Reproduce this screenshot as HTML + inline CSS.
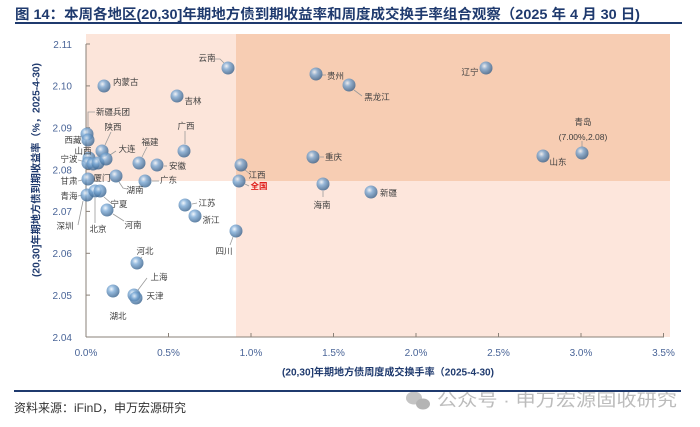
<!DOCTYPE html>
<html><head><meta charset="utf-8"><style>
html,body{margin:0;padding:0;background:#fff;}
svg{display:block;}
text{font-family:"Liberation Sans","Noto Sans CJK SC",sans-serif;}
.lb{font-size:8.5px;fill:#404040;}
.ld{stroke:#9a9a9a;stroke-width:0.8;fill:none;}
.yt{font-size:10px;fill:#4a6598;text-anchor:end;}
.xt{font-size:10px;fill:#4a6598;text-anchor:middle;}
</style></head><body>
<svg width="700" height="427" viewBox="0 0 700 427" xmlns="http://www.w3.org/2000/svg">
<defs>
<radialGradient id="g" cx="0.38" cy="0.35" r="0.7">
<stop offset="0" stop-color="#eef5fc"/>
<stop offset="0.35" stop-color="#7aa9d6"/>
<stop offset="1" stop-color="#2c5783"/>
</radialGradient>
</defs>
<rect width="700" height="427" fill="#fff"/>
<!-- title -->
<text x="15" y="19" font-size="14" font-weight="bold" fill="#1f3a6e" textLength="625" lengthAdjust="spacingAndGlyphs">图 14：本周各地区(20,30]年期地方债到期收益率和周度成交换手率组合观察（2025 年 4 月 30 日)</text>
<rect x="15" y="22" width="667" height="2" fill="#1f3a6e"/>
<!-- shading -->
<rect x="86" y="34" width="150" height="147" fill="#fce5da"/>
<rect x="236" y="34" width="434" height="147" fill="#f7cdb3"/>
<rect x="236" y="181" width="434" height="156" fill="#fde6dc"/>
<!-- axes -->
<g stroke="#8a8178" stroke-width="1">
<line x1="86" y1="44" x2="86" y2="337"/>
<line x1="86" y1="337" x2="664" y2="337"/>
<line x1="86" y1="44" x2="90" y2="44"/>
<line x1="86" y1="85.9" x2="90" y2="85.9"/>
<line x1="86" y1="127.7" x2="90" y2="127.7"/>
<line x1="86" y1="169.6" x2="90" y2="169.6"/>
<line x1="86" y1="211.4" x2="90" y2="211.4"/>
<line x1="86" y1="253.3" x2="90" y2="253.3"/>
<line x1="86" y1="295.1" x2="90" y2="295.1"/>
<line x1="168.5" y1="337" x2="168.5" y2="333"/>
<line x1="251" y1="337" x2="251" y2="333"/>
<line x1="333.5" y1="337" x2="333.5" y2="333"/>
<line x1="416" y1="337" x2="416" y2="333"/>
<line x1="498.5" y1="337" x2="498.5" y2="333"/>
<line x1="581" y1="337" x2="581" y2="333"/>
<line x1="663.5" y1="337" x2="663.5" y2="333"/>
</g>
<!-- y tick labels -->
<text class="yt" x="72" y="48">2.11</text>
<text class="yt" x="72" y="89.5">2.10</text>
<text class="yt" x="72" y="131.5">2.09</text>
<text class="yt" x="72" y="173.5">2.08</text>
<text class="yt" x="72" y="215">2.07</text>
<text class="yt" x="72" y="257">2.06</text>
<text class="yt" x="72" y="299">2.05</text>
<text class="yt" x="72" y="341">2.04</text>
<!-- x tick labels -->
<text class="xt" x="86" y="356">0.0%</text>
<text class="xt" x="168.5" y="356">0.5%</text>
<text class="xt" x="251" y="356">1.0%</text>
<text class="xt" x="333.5" y="356">1.5%</text>
<text class="xt" x="416" y="356">2.0%</text>
<text class="xt" x="498.5" y="356">2.5%</text>
<text class="xt" x="581" y="356">3.0%</text>
<text class="xt" x="663.5" y="356">3.5%</text>
<!-- axis titles -->
<text x="388" y="375.5" font-size="10" font-weight="bold" fill="#1f3a6e" text-anchor="middle" textLength="212" lengthAdjust="spacingAndGlyphs">(20,30]年期地方债周度成交换手率（2025-4-30)</text>
<text transform="translate(39.5,170) rotate(-90)" x="0" y="0" font-size="10" font-weight="bold" fill="#1f3a6e" text-anchor="middle" textLength="214" lengthAdjust="spacingAndGlyphs">(20,30]年期地方债到期收益率（%，2025-4-30)</text>
<!-- leader lines -->
<g class="ld">
<polyline points="215,59 220,59 224,63"/>
<polyline points="95,112 88,112 88,129"/>
<line x1="111" y1="132" x2="105" y2="145"/>
<line x1="90" y1="153" x2="88" y2="155"/>
<line x1="116" y1="151" x2="110" y2="155"/>
<line x1="147" y1="147" x2="142" y2="157"/>
<line x1="185" y1="131" x2="185" y2="144"/>
<line x1="78" y1="160" x2="86" y2="162"/>
<line x1="164" y1="166" x2="167" y2="166"/>
<line x1="78" y1="181" x2="82" y2="180"/>
<polyline points="119,182 123,188 127,189"/>
<line x1="152" y1="181" x2="159" y2="181"/>
<line x1="78" y1="196" x2="82" y2="195"/>
<line x1="95" y1="198" x2="95" y2="223"/>
<line x1="104" y1="197" x2="111" y2="203"/>
<line x1="78" y1="225" x2="83" y2="201"/>
<line x1="113" y1="214" x2="124" y2="221"/>
<line x1="192" y1="204" x2="197" y2="203"/>
<line x1="230" y1="245" x2="233" y2="237"/>
<line x1="142" y1="257" x2="140" y2="259"/>
<line x1="147" y1="278" x2="138" y2="290"/>
<line x1="245" y1="170" x2="250" y2="174"/>
<line x1="245" y1="184" x2="249" y2="186"/>
<line x1="320" y1="157" x2="324" y2="157"/>
<line x1="323" y1="191" x2="323" y2="197"/>
<line x1="354" y1="90" x2="362" y2="96"/>
<line x1="582" y1="141" x2="582" y2="147"/>
<line x1="322" y1="75" x2="326" y2="75"/>
</g>
<!-- markers -->
<g fill="url(#g)" fill-opacity="0.78">
<circle cx="87" cy="134" r="6.5"/>
<circle cx="228" cy="68" r="6.5"/>
<circle cx="104" cy="86" r="6.5"/>
<circle cx="177" cy="96" r="6.5"/>
<circle cx="88" cy="140" r="6.5"/>
<circle cx="102" cy="151" r="6.5"/>
<circle cx="89" cy="158" r="6.5"/>
<circle cx="88" cy="163" r="6.5"/>
<circle cx="93" cy="164" r="6.5"/>
<circle cx="98" cy="163" r="6.5"/>
<circle cx="106" cy="159" r="6.5"/>
<circle cx="139" cy="163" r="6.5"/>
<circle cx="184" cy="151" r="6.5"/>
<circle cx="157" cy="165" r="6.5"/>
<circle cx="88" cy="179" r="6.5"/>
<circle cx="116" cy="176" r="6.5"/>
<circle cx="145" cy="181" r="6.5"/>
<circle cx="87" cy="195" r="6.5"/>
<circle cx="95" cy="191" r="6.5"/>
<circle cx="100" cy="191" r="6.5"/>
<circle cx="107" cy="210" r="6.5"/>
<circle cx="185" cy="205" r="6.5"/>
<circle cx="195" cy="216" r="6.5"/>
<circle cx="236" cy="231" r="6.5"/>
<circle cx="137" cy="263" r="6.5"/>
<circle cx="134" cy="295" r="6.5"/>
<circle cx="136" cy="298" r="6.5"/>
<circle cx="113" cy="291" r="6.5"/>
<circle cx="241" cy="165" r="6.5"/>
<circle cx="239" cy="181" r="6.5"/>
<circle cx="313" cy="157" r="6.5"/>
<circle cx="323" cy="184" r="6.5"/>
<circle cx="371" cy="192" r="6.5"/>
<circle cx="316" cy="74" r="6.5"/>
<circle cx="349" cy="85" r="6.5"/>
<circle cx="486" cy="68" r="6.5"/>
<circle cx="582" cy="153" r="6.5"/>
<circle cx="543" cy="156" r="6.5"/>
</g>
<!-- labels -->
<g class="lb">
<text x="207" y="61" text-anchor="middle">云南</text>
<text x="113" y="85">内蒙古</text>
<text x="193" y="104" text-anchor="middle">吉林</text>
<text x="96" y="115">新疆兵团</text>
<text x="113" y="130" text-anchor="middle">陕西</text>
<text x="73" y="143" text-anchor="middle">西藏</text>
<text x="83" y="154" text-anchor="middle">山西</text>
<text x="127" y="152" text-anchor="middle">大连</text>
<text x="150" y="145" text-anchor="middle">福建</text>
<text x="186" y="129" text-anchor="middle">广西</text>
<text x="69" y="162" text-anchor="middle">宁波</text>
<text x="169" y="169">安徽</text>
<text x="69" y="184" text-anchor="middle">甘肃</text>
<text x="102" y="181" text-anchor="middle">厦门</text>
<text x="135" y="193" text-anchor="middle">湖南</text>
<text x="160" y="183">广东</text>
<text x="69" y="199" text-anchor="middle">青海</text>
<text x="98" y="232" text-anchor="middle">北京</text>
<text x="119" y="207" text-anchor="middle">宁夏</text>
<text x="65" y="229" text-anchor="middle">深圳</text>
<text x="133" y="228" text-anchor="middle">河南</text>
<text x="207" y="206" text-anchor="middle">江苏</text>
<text x="211" y="223" text-anchor="middle">浙江</text>
<text x="224" y="254" text-anchor="middle">四川</text>
<text x="145" y="254" text-anchor="middle">河北</text>
<text x="159" y="280" text-anchor="middle">上海</text>
<text x="155" y="299" text-anchor="middle">天津</text>
<text x="118" y="319" text-anchor="middle">湖北</text>
<text x="257" y="178" text-anchor="middle">江西</text>
<text x="259" y="189" text-anchor="middle" fill="#e0201c" font-weight="bold">全国</text>
<text x="325" y="160">重庆</text>
<text x="322" y="208" text-anchor="middle">海南</text>
<text x="380" y="196">新疆</text>
<text x="327" y="79">贵州</text>
<text x="377" y="100" text-anchor="middle">黑龙江</text>
<text x="470" y="75" text-anchor="middle">辽宁</text>
<text x="583" y="125" text-anchor="middle">青岛</text>
<text x="583" y="140" text-anchor="middle">(7.00%,2.08)</text>
<text x="558" y="165" text-anchor="middle">山东</text>
</g>
<!-- footer -->
<g fill="#c4c4c4">
<ellipse cx="414" cy="398" rx="8" ry="6.5"/>
<ellipse cx="423" cy="404" rx="7" ry="5.5" fill="#b4b4b4"/>
</g>
<text x="437" y="406" font-size="17" fill="#bcbcbc" textLength="240" lengthAdjust="spacingAndGlyphs">公众号 · 申万宏源固收研究</text>
<rect x="14" y="390" width="667" height="2" fill="#1f3a6e"/>
<text x="14" y="412" font-size="12" fill="#333">资料来源：iFinD，申万宏源研究</text>
</svg>
</body></html>
